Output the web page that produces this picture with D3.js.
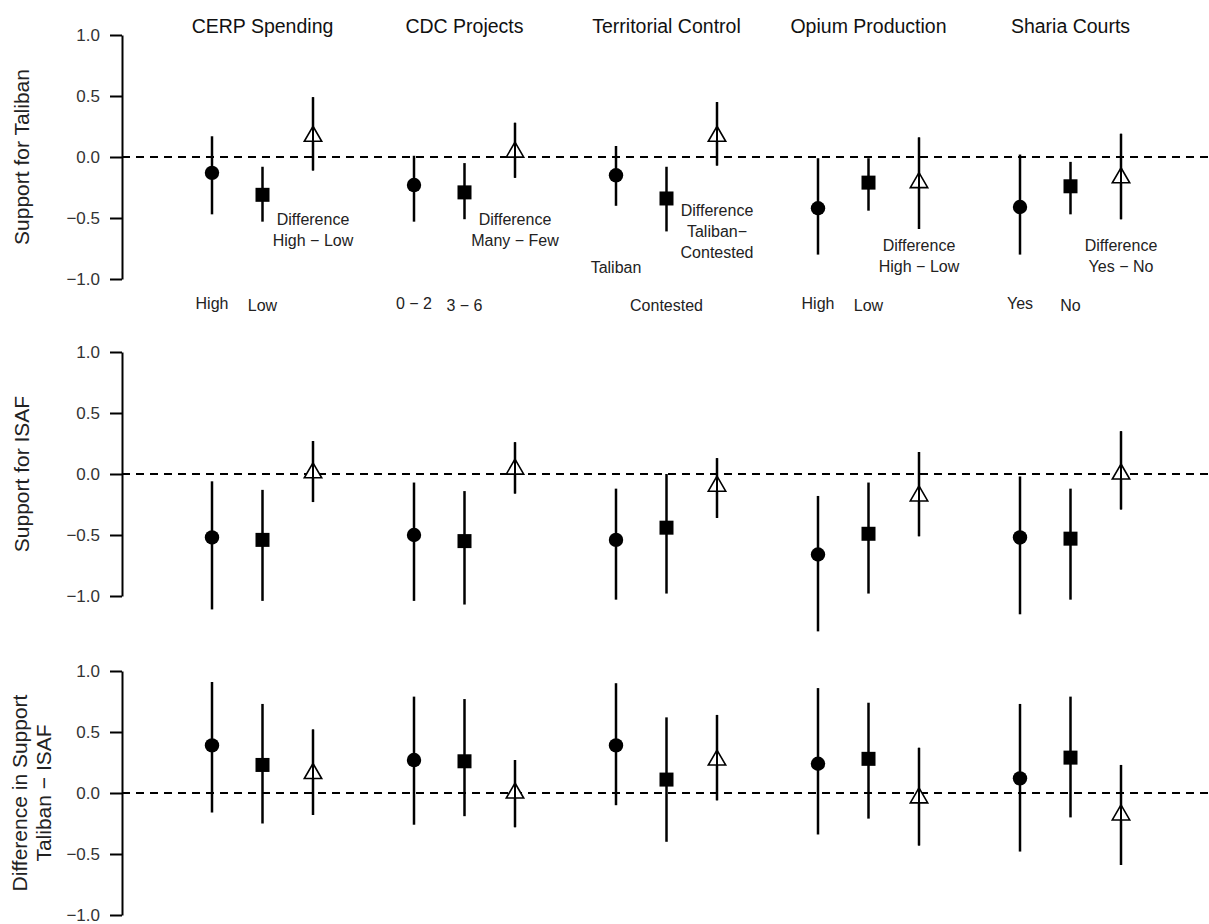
<!DOCTYPE html>
<html>
<head>
<meta charset="utf-8">
<script src="https://cdn.jsdelivr.net/npm/d3@7"></script>
<style>
  body { margin: 0; background: #fff; }
  text { font-family: "Liberation Sans", Arial, sans-serif; }
</style>
</head>
<body>
<div id="chart"></div>
<script>
// Size of the page.
var width = 1209;
var height = 924;

// Five comparisons, each with three estimates (group A, group B, difference).
var categories = ["CERP Spending", "CDC Projects", "Territorial Control", "Opium Production", "Sharia Courts"];
var rowLabels = [["Support for Taliban"], ["Support for ISAF"], ["Difference in Support", "Taliban \u2212 ISAF"]];
var tickValues = [-1, -0.5, 0, 0.5, 1];

// Support for Taliban
var talCircle = [-0.13, -0.23, -0.15, -0.42, -0.41];
var talCircleLo = [-0.47, -0.53, -0.40, -0.80, -0.80];
var talCircleHi = [0.17, 0.01, 0.09, -0.01, 0.02];
var talSquare = [-0.31, -0.29, -0.34, -0.21, -0.24];
var talSquareLo = [-0.53, -0.51, -0.61, -0.44, -0.47];
var talSquareHi = [-0.08, -0.05, -0.08, -0.01, -0.04];
var talTri = [0.17, 0.04, 0.17, -0.21, -0.17];
var talTriLo = [-0.11, -0.17, -0.07, -0.59, -0.51];
var talTriHi = [0.49, 0.28, 0.45, 0.16, 0.19];

// Support for ISAF
var isafCircle = [-0.52, -0.50, -0.54, -0.66, -0.52];
var isafCircleLo = [-1.11, -1.04, -1.03, -1.29, -1.15];
var isafCircleHi = [-0.06, -0.07, -0.12, -0.18, -0.02];
var isafSquare = [-0.54, -0.55, -0.44, -0.49, -0.53];
var isafSquareLo = [-1.04, -1.07, -0.98, -0.98, -1.03];
var isafSquareHi = [-0.13, -0.14, 0.00, -0.07, -0.12];
var isafTri = [0.01, 0.04, -0.10, -0.18, 0.00];
var isafTriLo = [-0.23, -0.16, -0.36, -0.51, -0.29];
var isafTriHi = [0.27, 0.26, 0.13, 0.18, 0.35];

// Difference Taliban - ISAF
var diffCircle = [0.39, 0.27, 0.39, 0.24, 0.12];
var diffCircleLo = [-0.16, -0.26, -0.10, -0.34, -0.48];
var diffCircleHi = [0.91, 0.79, 0.90, 0.86, 0.73];
var diffSquare = [0.23, 0.26, 0.11, 0.28, 0.29];
var diffSquareLo = [-0.25, -0.19, -0.40, -0.21, -0.20];
var diffSquareHi = [0.73, 0.77, 0.62, 0.74, 0.79];
var diffTri = [0.16, 0.00, 0.27, -0.04, -0.18];
var diffTriLo = [-0.18, -0.28, -0.06, -0.43, -0.59];
var diffTriHi = [0.52, 0.27, 0.64, 0.37, 0.23];

// Group labels under the first panel (circle, square) and the difference notes.
var circleLabels = ["High", "0 \u2212 2", "Taliban", "High", "Yes"];
var squareLabels = ["Low", "3 \u2212 6", "Contested", "Low", "No"];
var diffNotes = [
  ["Difference", "High \u2212 Low"],
  ["Difference", "Many \u2212 Few"],
  ["Difference", "Taliban\u2212", "Contested"],
  ["Difference", "High \u2212 Low"],
  ["Difference", "Yes \u2212 No"]
];

var panels = [
  { circle: [talCircle, talCircleLo, talCircleHi], square: [talSquare, talSquareLo, talSquareHi], tri: [talTri, talTriLo, talTriHi] },
  { circle: [isafCircle, isafCircleLo, isafCircleHi], square: [isafSquare, isafSquareLo, isafSquareHi], tri: [isafTri, isafTriLo, isafTriHi] },
  { circle: [diffCircle, diffCircleLo, diffCircleHi], square: [diffSquare, diffSquareLo, diffSquareHi], tri: [diffTri, diffTriLo, diffTriHi] }
];

// Slot k = 4 * group + position (0 circle, 1 square, 2 triangle).
var x = d3.scaleLinear().domain([0, 18]).range([212, 1121]);
var axisX = 122;
var panelTop = [35, 352, 671];
var panelH = 244;

var svg = d3.select("#chart").append("svg")
    .attr("width", width)
    .attr("height", height);

// Column titles
svg.selectAll("text.title")
    .data(categories)
    .enter().append("text")
    .attr("class", "title")
    .attr("x", function(d, i) { return x(4 * i + 1); })
    .attr("y", 33)
    .attr("text-anchor", "middle")
    .attr("font-size", 19.5)
    .attr("fill", "#111")
    .text(function(d) { return d; });

panels.forEach(function(p, pi) {
  var y = d3.scaleLinear().domain([-1, 1]).range([panelTop[pi] + panelH, panelTop[pi]]);
  var g = svg.append("g");

  // dashed zero line
  g.append("line")
      .attr("x1", axisX).attr("x2", width)
      .attr("y1", y(0)).attr("y2", y(0))
      .attr("stroke", "#000")
      .attr("stroke-width", 2)
      .attr("stroke-dasharray", "8,6");

  // y axis
  var ax = g.append("g")
      .attr("transform", "translate(" + axisX + ",0)")
      .call(d3.axisLeft(y).tickValues(tickValues).tickFormat(d3.format(".1f"))
        .tickSize(12).tickSizeOuter(0).tickPadding(10));
  ax.select(".domain").attr("stroke-width", 2);
  ax.selectAll(".tick line").attr("stroke-width", 2);
  ax.selectAll(".tick text")
      .attr("font-size", 17)
      .attr("fill", "#333")
      .attr("font-family", "Liberation Sans, Arial, sans-serif");

  // row title
  var lines = rowLabels[pi];
  var lab = g.append("text")
      .attr("transform", "translate(" + (lines.length > 1 ? 27 : 29) + "," + y(0) + ") rotate(-90)")
      .attr("text-anchor", "middle")
      .attr("font-size", 21)
      .attr("fill", "#222");
  lab.selectAll("tspan")
      .data(lines)
      .enter().append("tspan")
      .attr("x", 0)
      .attr("dy", function(d, i) { return i ? 24 : 0; })
      .text(function(d) { return d; });

  // estimates and intervals
  var pts = [];
  ["circle", "square", "tri"].forEach(function(kind, j) {
    var s = p[kind];
    s[0].forEach(function(v, gi) {
      pts.push({ kind: kind, k: 4 * gi + j, v: v, lo: s[1][gi], hi: s[2][gi] });
    });
  });

  g.selectAll("line.ci")
      .data(pts)
      .enter().append("line")
      .attr("class", "ci")
      .attr("x1", function(d) { return x(d.k); })
      .attr("x2", function(d) { return x(d.k); })
      .attr("y1", function(d) { return y(d.lo); })
      .attr("y2", function(d) { return y(d.hi); })
      .attr("stroke", "#000")
      .attr("stroke-width", 2.5);

  g.selectAll("circle.pt")
      .data(pts.filter(function(d) { return d.kind === "circle"; }))
      .enter().append("circle")
      .attr("class", "pt")
      .attr("cx", function(d) { return x(d.k); })
      .attr("cy", function(d) { return y(d.v); })
      .attr("r", 7.2)
      .attr("fill", "#000");

  g.selectAll("rect.pt")
      .data(pts.filter(function(d) { return d.kind === "square"; }))
      .enter().append("rect")
      .attr("class", "pt")
      .attr("x", function(d) { return x(d.k) - 7; })
      .attr("y", function(d) { return y(d.v) - 7; })
      .attr("width", 14)
      .attr("height", 14)
      .attr("fill", "#000");

  // open triangles, R pch 2 style: apex 10 above the point, base 5 below
  g.selectAll("path.pt")
      .data(pts.filter(function(d) { return d.kind === "tri"; }))
      .enter().append("path")
      .attr("class", "pt")
      .attr("d", function(d) {
        var cx = x(d.k), cy = y(d.v);
        return "M" + cx + "," + (cy - 10) + "L" + (cx + 8.7) + "," + (cy + 5) +
               "L" + (cx - 8.7) + "," + (cy + 5) + "Z";
      })
      .attr("fill", "#fff")
      .attr("stroke", "#000")
      .attr("stroke-width", 1.6);

  // redraw the line through the open triangles
  g.selectAll("line.thru")
      .data(pts.filter(function(d) { return d.kind === "tri"; }))
      .enter().append("line")
      .attr("x1", function(d) { return x(d.k); })
      .attr("x2", function(d) { return x(d.k); })
      .attr("y1", function(d) { return y(d.lo); })
      .attr("y2", function(d) { return y(d.hi); })
      .attr("stroke", "#000")
      .attr("stroke-width", 2);

  if (pi === 0) {
    // group labels under the first panel
    svg.selectAll("text.clab")
        .data(circleLabels)
        .enter().append("text")
        .attr("x", function(d, i) { return x(4 * i); })
        .attr("y", function(d, i) { return i === 2 ? 273 : 309; })
        .attr("text-anchor", "middle")
        .attr("font-size", 16)
        .attr("fill", "#222")
        .text(function(d) { return d; });
    svg.selectAll("text.slab")
        .data(squareLabels)
        .enter().append("text")
        .attr("x", function(d, i) { return x(4 * i + 1); })
        .attr("y", 311)
        .attr("text-anchor", "middle")
        .attr("font-size", 16)
        .attr("fill", "#222")
        .text(function(d) { return d; });

    var noteTop = [225, 225, 216, 251, 251];
    diffNotes.forEach(function(note, i) {
      var t = svg.append("text")
          .attr("text-anchor", "middle")
          .attr("font-size", 16)
          .attr("fill", "#222");
      t.selectAll("tspan")
          .data(note)
          .enter().append("tspan")
          .attr("x", x(4 * i + 2))
          .attr("y", function(d, j) { return noteTop[i] + j * 21; })
          .text(function(d) { return d; });
    });
  }
});
</script>
</body>
</html>
